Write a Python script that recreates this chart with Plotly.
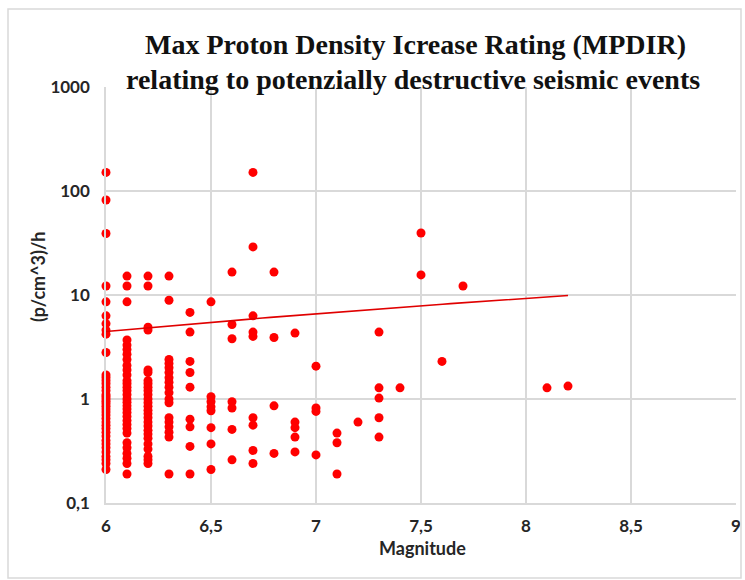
import plotly.graph_objects as go
import numpy as np

# Magnitude columns and the MPDIR values read for each column
magnitudes = [6.0, 6.1, 6.2, 6.3, 6.4, 6.5, 6.6, 6.7, 6.8, 6.9, 7.0, 7.1, 7.2, 7.3, 7.4, 7.5, 7.6, 7.7, 8.1, 8.2]
values_6_0 = [151, 82, 39, 12.2, 8.6, 6.3, 5.3, 4.6, 4.2, 2.8, 1.7, 1.6, 1.5, 1.4, 1.3, 1.2, 1.1, 1.05, 1.0,
              0.95, 0.9, 0.85, 0.8, 0.75, 0.7, 0.65, 0.6, 0.56, 0.52, 0.48, 0.44, 0.4, 0.37, 0.34, 0.31,
              0.28, 0.26, 0.24, 0.21]
values_6_1 = [15.2, 12.2, 8.6, 3.7, 3.3, 3.0, 2.7, 2.4, 2.1, 1.9, 1.7, 1.5, 1.4, 1.3, 1.2, 1.1, 1.0, 0.93,
              0.86, 0.8, 0.74, 0.68, 0.62, 0.57, 0.52, 0.47, 0.38, 0.34, 0.3, 0.27, 0.24, 0.19]
values_6_2 = [15.2, 12.2, 4.9, 4.6, 1.9, 1.8, 1.5, 1.4, 1.3, 1.2, 1.1, 1.0, 0.92, 0.85, 0.78, 0.72, 0.66,
              0.6, 0.55, 0.5, 0.46, 0.42, 0.37, 0.33, 0.28, 0.26, 0.24]
values_6_3 = [15.2, 8.9, 2.4, 2.2, 2.0, 1.8, 1.6, 1.45, 1.3, 1.15, 1.0, 0.92, 0.66, 0.6, 0.54, 0.48, 0.43, 0.19]
values_6_4 = [6.8, 4.4, 2.3, 1.8, 1.3, 0.64, 0.54, 0.35, 0.19]
values_6_5 = [8.6, 1.05, 0.94, 0.84, 0.77, 0.53, 0.37, 0.21]
values_6_6 = [16.6, 5.2, 3.8, 0.94, 0.82, 0.51, 0.26]
values_6_7 = [151, 29, 6.3, 4.4, 4.0, 0.66, 0.56, 0.32, 0.24]
values_6_8 = [16.6, 3.9, 0.86, 0.30]
values_6_9 = [4.3, 0.6, 0.53, 0.43, 0.31]
values_7_0 = [2.07, 0.82, 0.76, 0.29]
values_7_1 = [0.47, 0.38, 0.19]
values_7_2 = [0.60]
values_7_3 = [4.4, 1.28, 1.02, 0.66, 0.43]
values_7_4 = [1.28]
values_7_5 = [39.5, 15.6]
values_7_6 = [2.3]
values_7_7 = [12.2]
values_8_1 = [1.28]
values_8_2 = [1.33]

columns = [values_6_0, values_6_1, values_6_2, values_6_3, values_6_4, values_6_5, values_6_6,
           values_6_7, values_6_8, values_6_9, values_7_0, values_7_1, values_7_2, values_7_3,
           values_7_4, values_7_5, values_7_6, values_7_7, values_8_1, values_8_2]

# Power trendline y = a * x^b
trend_a = 0.0462
trend_b = 2.55
trend_range = [6.0, 8.2]

x_ticks = [6, 6.5, 7, 7.5, 8, 8.5, 9]
x_ticktext = ["6", "6,5", "7", "7,5", "8", "8,5", "9"]
y_ticks = [0.1, 1, 10, 100, 1000]
y_ticktext = ["0,1", "1", "10", "100", "1000"]

title_line1 = "Max Proton Density Icrease Rating (MPDIR)"
title_line2 = "relating to potenzially destructive seismic events"

xs, ys = [], []
for m, col in zip(magnitudes, columns):
    xs += [m] * len(col)
    ys += col

tx = np.linspace(trend_range[0], trend_range[1], 60)
ty = trend_a * tx ** trend_b

fig = go.Figure()
fig.add_trace(go.Scatter(x=xs, y=ys, mode="markers", cliponaxis=False,
                         marker=dict(color="#FF0000", size=9, line=dict(width=0)),
                         showlegend=False))
fig.add_trace(go.Scatter(x=tx, y=ty, mode="lines", line=dict(color="#E00000", width=1.6),
                         showlegend=False))

W, H = 745, 580
# plot area in screen pixels
SX0, SX1, SY0, SY1 = 106, 736, 87, 503
L, R, T, B = SX0, W - SX1, SY0, H - SY1
pw, ph = W - L - R, H - T - B

def px_x(s):
    return (s - L) / pw

def px_y(s):
    return (H - B - s) / ph

tick_font = dict(family="Lato, Open Sans, sans-serif", size=17, color="#262626", weight="bold")
label_font = dict(family="Lato, Open Sans, sans-serif", size=18, color="#262626")
title_font = dict(family="Liberation Serif, Times New Roman, serif", size=28, color="#111111")

fig.update_layout(
    width=W, height=H,
    margin=dict(l=L, r=R, t=T, b=B, pad=0),
    paper_bgcolor="white", plot_bgcolor="white",
    xaxis=dict(range=[6, 9], tickvals=x_ticks, ticktext=x_ticktext, showgrid=True,
               gridcolor="#d9d9d9", gridwidth=1.5, zeroline=False, showline=True,
               linecolor="#d9d9d9", linewidth=1.5, ticks="", tickfont=tick_font,
               ticklabelstandoff=7, automargin=False),
    yaxis=dict(type="log", range=[-1, 3], tickvals=y_ticks, ticktext=y_ticktext, showgrid=True,
               gridcolor="#d9d9d9", gridwidth=1.5, zeroline=False, showline=True,
               linecolor="#d9d9d9", linewidth=1.5, ticks="", tickfont=tick_font,
               ticklabelstandoff=11, automargin=False),
    shapes=[dict(type="rect", xref="paper", yref="paper",
                 x0=px_x(8), x1=px_x(741), y0=px_y(578), y1=px_y(9),
                 line=dict(color="#d9d9d9", width=1.5), fillcolor="rgba(0,0,0,0)")],
    annotations=[
        dict(text="<b>" + title_line1 + "</b>", xref="paper", yref="paper", x=px_x(415), y=px_y(45),
             xanchor="center", yanchor="middle", showarrow=False, font=title_font),
        dict(text="<b>" + title_line2 + "</b>", xref="paper", yref="paper", x=px_x(413), y=px_y(79),
             xanchor="center", yanchor="middle", showarrow=False, font=title_font),
        dict(text="<b>Magnitude</b>", xref="paper", yref="paper", x=px_x(422), y=px_y(548),
             xanchor="center", yanchor="middle", showarrow=False, font=label_font),
        dict(text="<b>(p/cm^3)/h</b>", xref="paper", yref="paper", x=px_x(38), y=px_y(277),
             xanchor="center", yanchor="middle", showarrow=False, textangle=-90, font=label_font),
    ],
)

fig.write_html("out.html", config={"displayModeBar": False},
               post_script="document.body.style.margin='0';document.body.style.overflow='hidden';")
